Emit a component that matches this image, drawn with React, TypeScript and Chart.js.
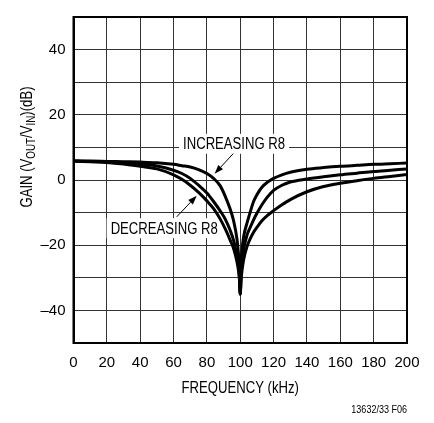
import React, { useEffect, useRef } from 'react';
import { Chart, registerables } from 'chart.js';

Chart.register(...registerables);

// ---- data ----
const FREQ_KHZ = [
  0, 10, 20, 30, 40, 50, 60, 65, 70, 75, 80, 84, 88, 91, 94, 96, 98, 99, 99.5, 100,
  100.5, 101, 102, 104, 106, 108, 110, 113, 116, 120, 125, 130, 140, 150, 160, 170, 180, 190, 200,
];
const GAIN_NARROW = [
  5.8, 5.8, 5.7, 5.6, 5.5, 5.3, 4.8, 4.4, 4.0, 3.2, 2.0, 0.5, -1.8, -5.0, -9.0, -12.5, -18, -23, -27, -35,
  -27, -22, -17.5, -13.3, -9.8, -6.6, -4.5, -2.2, -0.8, 0.5, 1.6, 2.4, 3.3, 3.8, 4.2, 4.5, 4.8, 5.0, 5.2,
];
const GAIN_MID = [
  5.8, 5.7, 5.6, 5.3, 4.9, 4.3, 3.0, 2.0, 0.5, -1.6, -4.0, -6.6, -9.5, -12, -15.5, -18.5, -23, -26.5, -29.5, -35,
  -29, -25.5, -21.5, -17, -14.5, -12.2, -10.2, -7.6, -5.4, -3.2, -1.6, -0.6, 0.3, 1.0, 1.6, 2.1, 2.6, 3.0, 3.4,
];
const GAIN_WIDE = [
  5.8, 5.6, 5.4, 4.9, 4.2, 3.4, 1.6, 0.2, -1.6, -3.8, -6.4, -8.8, -12, -15, -18.5, -21, -25, -28, -30.5, -35,
  -30.5, -28, -24.5, -20.5, -18, -16, -14.5, -12.5, -11, -9.4, -7.6, -6.0, -3.6, -2.0, -1.0, -0.2, 0.5, 1.1, 1.7,
];
const X_MIN = 0;
const X_MAX = 200;
const X_STEP = 20;
const Y_MIN = -50;
const Y_MAX = 50;
const Y_STEP = 10;
const Y_LABEL_STEP = 20;

// annotation anchors in data units [kHz, dB]
const INC_TEXT = 'INCREASING R8';
const INC_TEXT_AT = [96.3, 11.1];
const INC_ARROW = [[95.8, 8.1], [84.6, 1.9]];
const DEC_TEXT = 'DECREASING R8';
const DEC_TEXT_AT = [54.4, -14.8];
const DEC_ARROW = [[61.9, -11.3], [73.9, -4.8]];

const X_TITLE = 'FREQUENCY (kHz)';
const FOOTNOTE = '13632/33 F06';

const FAM = '"Liberation Sans", Arial, sans-serif';
const NARROW = 0.82;

function fmt(v: number) {
  return v < 0 ? '\u2013' + Math.abs(v) : String(v);
}

// draw condensed text: align 'left' | 'center' | 'right', baseline middle
function narrowText(ctx: CanvasRenderingContext2D, text: string, x: number, y: number, size: number, align: string) {
  ctx.save();
  ctx.font = `${size}px ${FAM}`;
  const w = ctx.measureText(text).width * NARROW;
  let left = x;
  if (align === 'center') left = x - w / 2;
  else if (align === 'right') left = x - w;
  ctx.translate(left, y);
  ctx.scale(NARROW, 1);
  ctx.textAlign = 'left';
  ctx.textBaseline = 'middle';
  ctx.fillStyle = '#000';
  ctx.fillText(text, 0, 0);
  ctx.restore();
  return w;
}

function drawArrow(ctx: CanvasRenderingContext2D, x1: number, y1: number, x2: number, y2: number) {
  const ang = Math.atan2(y2 - y1, x2 - x1);
  const len = 9;
  const hw = 3.2;
  const bx = x2 - len * Math.cos(ang);
  const by = y2 - len * Math.sin(ang);
  ctx.save();
  ctx.strokeStyle = '#000';
  ctx.fillStyle = '#000';
  ctx.lineWidth = 1;
  ctx.beginPath();
  ctx.moveTo(x1, y1);
  ctx.lineTo(bx, by);
  ctx.stroke();
  ctx.beginPath();
  ctx.moveTo(x2, y2);
  ctx.lineTo(bx + hw * Math.sin(ang), by - hw * Math.cos(ang));
  ctx.lineTo(bx - hw * Math.sin(ang), by + hw * Math.cos(ang));
  ctx.closePath();
  ctx.fill();
  ctx.restore();
}

function drawBoxLabel(ctx: CanvasRenderingContext2D, text: string, cx: number, cy: number) {
  ctx.save();
  ctx.font = `16px ${FAM}`;
  const w = ctx.measureText(text).width * NARROW;
  ctx.fillStyle = '#fff';
  ctx.fillRect(cx - w / 2 - 4, cy - 10, w + 8, 20);
  ctx.restore();
  narrowText(ctx, text, cx, cy + 1, 16, 'center');
}

const decor = {
  id: 'decor',
  beforeDatasetsDraw(chart: any) {
    const { ctx, scales } = chart;
    const x = scales.x;
    const y = scales.y;
    drawBoxLabel(ctx, INC_TEXT, x.getPixelForValue(INC_TEXT_AT[0]), y.getPixelForValue(INC_TEXT_AT[1]));
    drawBoxLabel(ctx, DEC_TEXT, x.getPixelForValue(DEC_TEXT_AT[0]), y.getPixelForValue(DEC_TEXT_AT[1]));
  },
  afterDatasetsDraw(chart: any) {
    const { ctx, scales, chartArea } = chart;
    const x = scales.x;
    const y = scales.y;
    for (const a of [INC_ARROW, DEC_ARROW]) {
      drawArrow(
        ctx,
        x.getPixelForValue(a[0][0]), y.getPixelForValue(a[0][1]),
        x.getPixelForValue(a[1][0]), y.getPixelForValue(a[1][1]),
      );
    }
    ctx.save();
    ctx.strokeStyle = '#000';
    ctx.lineWidth = 2;
    ctx.strokeRect(chartArea.left, chartArea.top, chartArea.right - chartArea.left, chartArea.bottom - chartArea.top);
    ctx.restore();
  },
  afterDraw(chart: any) {
    const { ctx, chartArea } = chart;
    narrowText(ctx, X_TITLE, (chartArea.left + chartArea.right) / 2, 389, 16, 'center');
    narrowText(ctx, FOOTNOTE, chartArea.right, 410, 11, 'right');
    // y title with subscripts
    const parts: [string, boolean][] = [
      ['GAIN (V', false],
      ['OUT', true],
      ['/V', false],
      ['IN', true],
      [')(dB)', false],
    ];
    const big = `16px ${FAM}`;
    const small = `12px ${FAM}`;
    ctx.save();
    let total = 0;
    for (const [t, sub] of parts) {
      ctx.font = sub ? small : big;
      total += ctx.measureText(t).width;
    }
    ctx.translate(25.5, 147);
    ctx.rotate(-Math.PI / 2);
    ctx.scale(NARROW, 1);
    ctx.fillStyle = '#000';
    ctx.textAlign = 'left';
    ctx.textBaseline = 'alphabetic';
    let px = -total / 2;
    for (const [t, sub] of parts) {
      ctx.font = sub ? small : big;
      ctx.fillText(t, px, sub ? 9 : 6);
      px += ctx.measureText(t).width;
    }
    ctx.restore();
  },
};

export default function App() {
  const ref = useRef<HTMLCanvasElement | null>(null);
  useEffect(() => {
    if (!ref.current) return;
    const mk = (vals: number[]) => FREQ_KHZ.map((f, i) => ({ x: f, y: vals[i] }));
    const ds = (label: string, vals: number[]) => ({
      label,
      data: mk(vals),
      showLine: true,
      borderColor: '#000',
      backgroundColor: '#000',
      borderWidth: 3,
      pointRadius: 0,
      cubicInterpolationMode: 'monotone' as const,
      fill: false,
    });
    const chart = new Chart(ref.current, {
      type: 'scatter',
      data: {
        datasets: [ds('narrow', GAIN_NARROW), ds('mid', GAIN_MID), ds('wide', GAIN_WIDE)],
      },
      options: {
        responsive: false,
        animation: false,
        events: [],
        layout: { padding: { top: 9, right: 27, left: 0, bottom: 0 } },
        plugins: { legend: { display: false }, tooltip: { enabled: false }, title: { display: false } },
        scales: {
          x: {
            type: 'linear',
            min: X_MIN,
            max: X_MAX,
            ticks: {
              stepSize: X_STEP,
              color: '#000',
              font: { family: FAM, size: 15 },
              padding: 11,
              maxRotation: 0,
              autoSkip: false,
              callback: (v: any) => fmt(Number(v)),
            },
            grid: { color: '#333', lineWidth: 1, drawTicks: false },
            border: { display: true, color: '#000', width: 2 },
            afterFit: (s: any) => { s.height = 80; },
          },
          y: {
            type: 'linear',
            min: Y_MIN,
            max: Y_MAX,
            ticks: {
              stepSize: Y_STEP,
              color: '#000',
              font: { family: FAM, size: 15 },
              padding: 8,
              autoSkip: false,
              callback: (v: any) => {
                const n = Number(v);
                return n % Y_LABEL_STEP === 0 && n !== Y_MIN && n !== Y_MAX ? fmt(n) : '';
              },
            },
            grid: { color: '#333', lineWidth: 1, drawTicks: false },
            border: { display: true, color: '#000', width: 2 },
            afterFit: (s: any) => { s.width = 73.5; },
          },
        },
      },
      plugins: [decor],
    });
    return () => chart.destroy();
  }, []);
  return (
    <div style={{ position: 'absolute', left: 0, top: 0, width: 434, height: 423, background: '#fff' }}>
      <canvas ref={ref} width={434} height={423} />
    </div>
  );
}
